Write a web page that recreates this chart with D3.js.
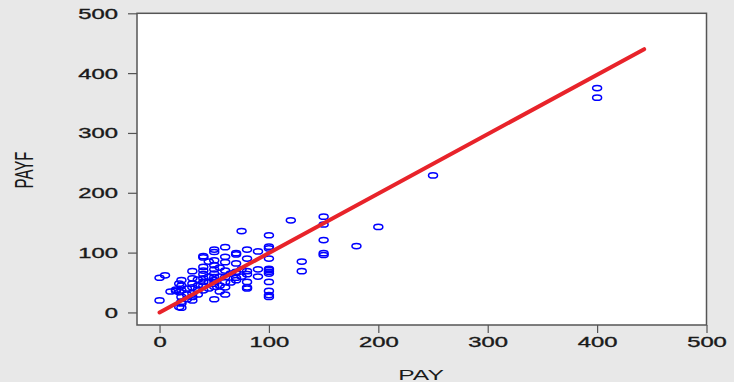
<!DOCTYPE html>
<html>
<head>
<meta charset="utf-8">
<style>
  body { margin: 0; background: #e8e8e8; }
  svg { display: block; font-family: "Liberation Sans", Arial, sans-serif; }
</style>
</head>
<body>
<div id="chart"></div>
<script src="https://d3js.org/d3.v7.min.js"></script>
<script>
  // PAY (x) and PAYF (y)
  const pay = [
    400, 400, 250, 200, 180, 150, 150, 150, 150, 150, 130, 130, 120,
    100, 100, 100, 100, 100, 100, 100, 100, 100, 100, 100, 100,
    90, 90, 90, 75,
    80, 80, 80, 80, 80, 80, 80,
    70, 70, 70, 70, 70, 70, 75, 75,
    60, 60, 60, 60, 60, 60, 60, 60, 65, 65,
    50, 50, 50, 50, 50, 50, 50, 50, 50, 50, 50, 55, 55, 55, 55,
    40, 40, 40, 40, 40, 40, 40, 40, 40, 45, 45, 45, 45,
    30, 30, 30, 30, 30, 30, 30, 35, 35, 35, 35,
    20, 20, 20, 20, 20, 20, 20, 25, 25, 25,
    15, 15, 10, 18, 18, 18,
    0, 5, 0
  ];
  const payf = [
    375, 359, 229, 143, 111, 160, 147, 121, 99, 96, 85, 69, 154,
    129, 110, 107, 90, 73, 71, 68, 65, 51, 36, 29, 26,
    72, 102, 60, 136,
    105, 90, 69, 64, 51, 42, 40,
    99, 97, 82, 68, 58, 54, 72, 60,
    109, 93, 84, 70, 59, 51, 42, 30, 65, 50,
    105, 101, 87, 79, 72, 65, 59, 54, 48, 43, 22, 75, 60, 45, 35,
    94, 92, 76, 70, 64, 57, 51, 45, 37, 60, 50, 40, 85,
    69, 57, 48, 42, 32, 26, 20, 55, 45, 38, 30,
    54, 45, 37, 26, 18, 15, 8, 40, 30, 22,
    38, 36, 35, 48, 34, 9,
    58, 62, 20
  ];
  // fitted line end points
  const fitX = [0, 443];
  const fitY = [0, 440];
  const xTicks = [0, 100, 200, 300, 400, 500];
  const yTicks = [0, 100, 200, 300, 400, 500];

  const W = 734, H = 382;
  const stretch = 1.7; // text is drawn wide, like the source

  const svg = d3.select("#chart").append("svg")
    .attr("width", W)
    .attr("height", H);

  const x = d3.scaleLinear().domain([-20.6, 500]).range([137, 706.5]);
  const y = d3.scaleLinear().domain([-21, 500]).range([325, 13.3]);

  // plot area
  svg.append("rect")
    .attr("x", x.range()[0]).attr("y", y.range()[1])
    .attr("width", x.range()[1] - x.range()[0])
    .attr("height", y.range()[0] - y.range()[1])
    .attr("fill", "#fff")
    .attr("stroke", "#555")
    .attr("stroke-width", 1.5);

  const xAxis = svg.append("g")
    .attr("transform", `translate(0,${y.range()[0]})`)
    .call(d3.axisBottom(x).tickValues(xTicks).tickSize(8).tickSizeOuter(0));
  xAxis.selectAll("text")
    .attr("y", null).attr("dy", null)
    .attr("text-anchor", "middle")
    .attr("transform", `translate(0,22) scale(${stretch},1)`);

  const yAxis = svg.append("g")
    .attr("transform", `translate(${x.range()[0]},0)`)
    .call(d3.axisLeft(y).tickValues(yTicks).tickSize(9).tickSizeOuter(0));
  yAxis.selectAll("text")
    .attr("x", null).attr("dy", "0.36em")
    .attr("text-anchor", "end")
    .attr("transform", `translate(-19,0) scale(${stretch},1)`);

  svg.selectAll(".domain").remove();
  svg.selectAll(".tick line").attr("stroke", "#555").attr("stroke-width", 1.2);
  svg.selectAll(".tick text")
    .attr("font-size", 14)
    .attr("fill", "#1a1a1a")
    .attr("stroke", "#1a1a1a")
    .attr("stroke-width", 0.35)
    .attr("font-family", "Liberation Sans, Arial, sans-serif");

  // axis titles
  svg.append("text")
    .attr("transform", `translate(421,380) scale(${stretch},1)`)
    .attr("text-anchor", "middle")
    .attr("font-size", 14.5)
    .attr("fill", "#1a1a1a")
    .text("PAY");

  svg.append("text")
    .attr("transform", `translate(33,170) rotate(-90) scale(1,${stretch})`)
    .attr("text-anchor", "middle")
    .attr("font-size", 15)
    .attr("fill", "#1a1a1a")
    .text("PAYF");

  // scatter
  svg.append("g").selectAll("ellipse")
    .data(d3.range(pay.length))
    .join("ellipse")
    .attr("cx", i => x(pay[i]))
    .attr("cy", i => y(payf[i]))
    .attr("rx", 4.5)
    .attr("ry", 2.6)
    .attr("fill", "none")
    .attr("stroke", "#0000ff")
    .attr("stroke-width", 1.5);

  // fitted line
  svg.append("path")
    .datum(d3.range(fitX.length))
    .attr("fill", "none")
    .attr("stroke", "#e8232a")
    .attr("stroke-width", 4)
    .attr("stroke-linecap", "round")
    .attr("d", d3.line().x(i => x(fitX[i])).y(i => y(fitY[i])));
</script>
</body>
</html>
